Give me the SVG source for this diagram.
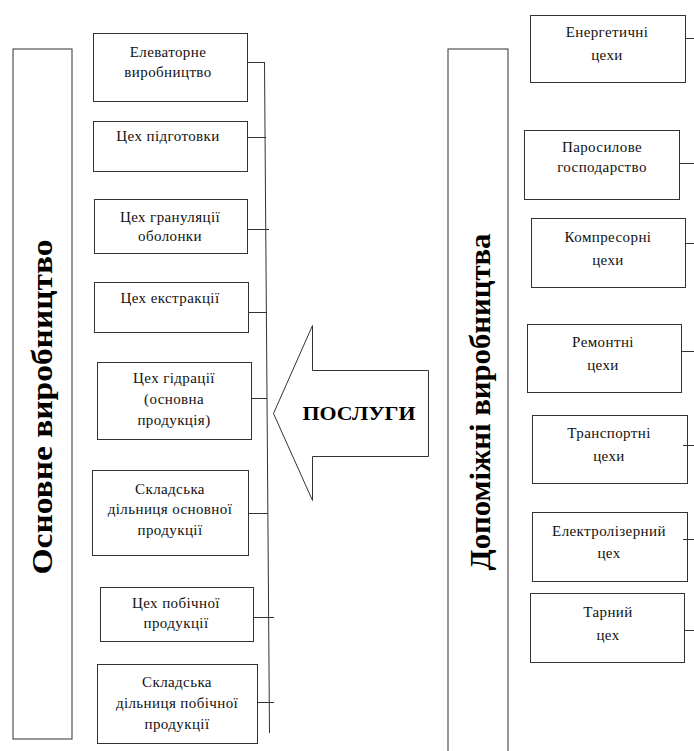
<svg xmlns="http://www.w3.org/2000/svg" width="694" height="751" viewBox="0 0 694 751">
<style>
.bx{fill:#fff;stroke:#333;stroke-width:1}
.ln{fill:none;stroke:#333;stroke-width:1}
.t{font-family:"Liberation Serif","Times New Roman",serif;font-size:15px;fill:#111;text-anchor:middle;letter-spacing:0.4px}
.big{font-family:"Liberation Serif","Times New Roman",serif;font-size:30px;font-weight:bold;fill:#000;text-anchor:middle}
.arr{font-family:"Liberation Serif","Times New Roman",serif;font-size:19px;font-weight:bold;fill:#000;text-anchor:middle}
</style>
<rect width="694" height="751" fill="#fff"/>
<g id="main">
<rect class="bx" x="13" y="49" width="59" height="690"/>
<text class="big" transform="translate(52,407) rotate(-90)" textLength="335" lengthAdjust="spacingAndGlyphs">Основне виробництво</text>
</g>
<g id="aux">
<rect class="bx" x="448" y="49" width="60" height="720"/>
<text class="big" transform="translate(490,402) rotate(-90)" textLength="337" lengthAdjust="spacingAndGlyphs">Допоміжні виробництва</text>
</g>
<g id="services">
<path class="ln" d="M273.5,413.5 L312.5,325.5 L312.5,370.5 L428.5,370.5 L428.5,456.5 L312.5,456.5 L312.5,500.5 Z"/>
<text class="arr" x="359" y="420" textLength="113" lengthAdjust="spacingAndGlyphs">ПОСЛУГИ</text>
</g>
<g id="l1"><rect class="bx" x="93.5" y="33.5" width="154" height="68"/><text class="t" x="168" y="57">Елеваторне</text><text class="t" x="168" y="77">виробництво</text></g>
<g id="l2"><rect class="bx" x="93.5" y="121.5" width="154" height="50"/><text class="t" x="168" y="141">Цех підготовки</text></g>
<g id="l3"><rect class="bx" x="94.5" y="199.5" width="153" height="54"/><text class="t" x="170" y="222">Цех грануляції</text><text class="t" x="170" y="241">оболонки</text></g>
<g id="l4"><rect class="bx" x="94.5" y="282.5" width="154" height="50"/><text class="t" x="170" y="303">Цех екстракції</text></g>
<g id="l5"><rect class="bx" x="97.5" y="362.5" width="154" height="77"/><text class="t" x="174" y="383">Цех гідрації</text><text class="t" x="174" y="404">(основна</text><text class="t" x="174" y="425">продукція)</text></g>
<g id="l6"><rect class="bx" x="92.5" y="470.5" width="156" height="85"/><text class="t" x="170" y="494">Складська</text><text class="t" x="170" y="514">дільниця основної</text><text class="t" x="170" y="535">продукції</text></g>
<g id="l7"><rect class="bx" x="100.5" y="587.5" width="153" height="54"/><text class="t" x="176" y="608">Цех побічної</text><text class="t" x="176" y="628">продукції</text></g>
<g id="l8"><rect class="bx" x="97.5" y="664.5" width="160" height="79"/><text class="t" x="177" y="687">Складська</text><text class="t" x="177" y="708">дільниця побічної</text><text class="t" x="177" y="729">продукції</text></g>
<g id="r1"><rect class="bx" x="530.5" y="15.5" width="155" height="67"/><text class="t" x="607" y="37">Енергетичні</text><text class="t" x="607" y="60">цехи</text></g>
<g id="r2"><rect class="bx" x="524.5" y="130.5" width="155" height="69"/><text class="t" x="602" y="152">Паросилове</text><text class="t" x="602" y="172">господарство</text></g>
<g id="r3"><rect class="bx" x="531.5" y="218.5" width="154" height="69"/><text class="t" x="608" y="242">Компресорні</text><text class="t" x="608" y="265">цехи</text></g>
<g id="r4"><rect class="bx" x="527.5" y="324.5" width="154" height="68"/><text class="t" x="603" y="347">Ремонтні</text><text class="t" x="603" y="370">цехи</text></g>
<g id="r5"><rect class="bx" x="532.5" y="415.5" width="155" height="68"/><text class="t" x="609" y="438">Транспортні</text><text class="t" x="609" y="461">цехи</text></g>
<g id="r6"><rect class="bx" x="532.5" y="512.5" width="155" height="69"/><text class="t" x="609" y="536">Електролізерний</text><text class="t" x="609" y="558">цех</text></g>
<g id="r7"><rect class="bx" x="530.5" y="593.5" width="154" height="69"/><text class="t" x="608" y="617">Тарний</text><text class="t" x="608" y="640">цех</text></g>
<g id="connectors">
<path class="ln" d="M264.5,62 L269.5,733"/>
<path class="ln" d="M247.5,62.5 H264.5 M247.5,137.5 H266 M247.5,229.5 H269 M248.5,312.5 H267 M251.5,398.5 H267 M248.5,513.5 H268 M253.5,617.5 H274 M257.5,702.5 H274"/>
<path class="ln" d="M685.5,38.5 H694 M679.5,163.5 H694 M685.5,243.5 H694 M681.5,351.5 H694 M683,445.5 H694 M683,539.5 H694 M684.5,630.5 H694"/>
</g>
</svg>
